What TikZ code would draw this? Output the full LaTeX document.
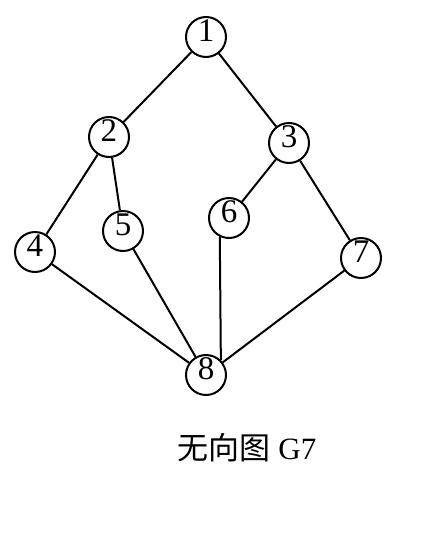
\documentclass[tikz,border=0pt]{standalone}
\usepackage{fontspec}
\setmainfont{Liberation Serif}
\newfontfamily\cjkfont{Noto Sans CJK SC}
\usepackage{tikz}
\usetikzlibrary{positioning}

\begin{document}
\begin{tikzpicture}[
  x=0.5pt, y=-0.5pt,
  vtx/.style={circle, draw=black, line width=1pt, minimum size=20pt, inner sep=0pt,
              text height=11pt, text depth=7pt, font=\fontsize{16.5}{18}\selectfont},
  edge/.style={line width=1pt, draw=black},
  captext/.style={font=\fontsize{15.5}{18}\selectfont, inner sep=0pt},
]
\useasboundingbox (0,0) rectangle (438,536);

\node[vtx] (n1) at (206,37)  {1};
\node[vtx] (n2) at (109,137) {2};
\node[vtx] (n3) at (289,143) {3};
\node[vtx] (n4) at (35,252)  {4};
\node[vtx] (n5) at (123,231) {5};
\node[vtx] (n6) at (229,218) {6};
\node[vtx] (n7) at (361,258) {7};
\node[vtx] (n8) at (206,375) {8};

\node[captext] (title) at (247,448) {{\cjkfont 无向图} G7};

\draw[edge] (n1) -- (n2);
\draw[edge] (n1) -- (n3);
\draw[edge] (n2) -- (n4);
\draw[edge] (n2) -- (n5);
\draw[edge] (n3) -- (n6);
\draw[edge] (n3) -- (n7);
\draw[edge] (n4) -- (n8);
\draw[edge] (n5) -- (n8);
\draw[edge] (n6.244) -- (n8.45);
\draw[edge] (n7) -- (n8);

\end{tikzpicture}
\end{document}
